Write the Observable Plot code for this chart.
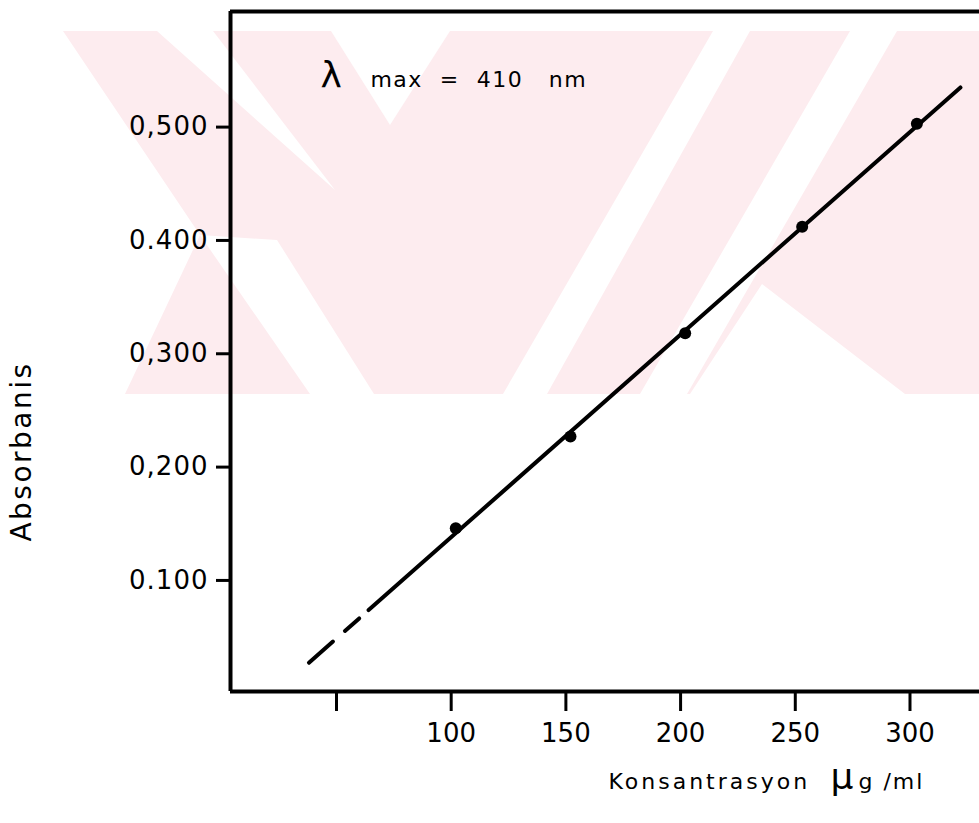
<!DOCTYPE html>
<html>
<head>
<meta charset="utf-8">
<script src="https://cdn.jsdelivr.net/npm/d3@7"></script>
<script src="https://cdn.jsdelivr.net/npm/@observablehq/plot@0.6"></script>
<style>
  body { margin: 0; background: #fff; }
  #wrap { position: relative; width: 979px; height: 823px; }
  #backdrop { position: absolute; left: 0; top: 0; }
  #chart { position: absolute; left: 0; top: 0; }
  #chart svg { display: block; }
</style>
</head>
<body>
<div id="wrap">
  <svg id="backdrop" width="979" height="823"></svg>
  <div id="chart"></div>
</div>
<script>
// Calibration standards (μg/ml) and absorbance measured at λmax = 410 nm
const concentration = [102, 152, 202, 253, 303];
const absorbance = [0.146, 0.227, 0.318, 0.412, 0.503];

const xTicks = [50, 100, 150, 200, 250, 300];
const xTickLabels = ["", "100", "150", "200", "250", "300"];
const yTicks = [0.1, 0.2, 0.3, 0.4, 0.5];
const yTickLabels = ["0.100", "0,200", "0,300", "0.400", "0,500"];

const xDomain = [3.8, 330.3];
const yDomain = [0.002, 0.602];

// Extent of the calibration line: dashed extrapolation, then solid
const fitStart = 38;
const fitSolidStart = 64;
const fitEnd = 322;

const lambdaSymbol = "λ";
const lambdaText = "max  =  410   nm";
const lambdaAt = [{x: 43, y: 0.535}];

const yLabel = "Absorbanis";
const xLabel = "Konsantrasyon";
const unitMu = "μ";
const unitRest = "g /ml";

// Pale logo printed on the page behind the figure (page pixels)
const logoBand = [[63, 31], [979, 31], [979, 394], [125, 394], [200, 235]];
const logoGaps = [
  [[157, 31], [213, 31], [335, 190]],
  [[331, 31], [450, 31], [390, 125]],
  [[713, 31], [750, 31], [547, 394], [503, 394]],
  [[850, 31], [897, 31], [687, 394], [640, 394]],
  [[762, 284], [905, 394], [690, 394]],
  [[200, 235], [277, 240], [374, 394], [310, 394]]
];

const backdrop = d3.select("#backdrop");
backdrop.append("polygon").attr("points", logoBand.join(" ")).attr("fill", "#fdecef");
backdrop.selectAll("polygon.gap").data(logoGaps).join("polygon")
  .attr("class", "gap").attr("points", d => d.join(" ")).attr("fill", "#fff");

// Least-squares calibration line through the standards
const points = concentration.map((c, i) => ({c, a: absorbance[i]}));
const mx = d3.mean(concentration);
const my = d3.mean(absorbance);
const slope = d3.sum(points, d => (d.c - mx) * (d.a - my)) / d3.sum(points, d => (d.c - mx) ** 2);
const intercept = my - slope * mx;
const fit = x => intercept + slope * x;
const dashedPart = [fitStart, fitSolidStart].map(x => ({x, y: fit(x)}));
const solidPart = [fitSolidStart, fitEnd].map(x => ({x, y: fit(x)}));

const font = "'DejaVu Sans', sans-serif";

const chart = Plot.plot({
  width: 979,
  height: 823,
  marginLeft: 230,
  marginRight: 0,
  marginTop: 11,
  marginBottom: 132,
  style: {fontFamily: font, color: "black", background: "transparent"},
  x: {domain: xDomain},
  y: {domain: yDomain},
  marks: [
    // frame: left, bottom and top edges (the right edge runs off the page)
    Plot.ruleX([xDomain[0]], {stroke: "black", strokeWidth: 4}),
    Plot.ruleY([yDomain[0], yDomain[1]], {stroke: "black", strokeWidth: 4}),
    Plot.axisX({
      ticks: xTicks,
      tickFormat: d => xTickLabels[xTicks.indexOf(d)],
      tickSize: 20,
      tickPadding: 12,
      strokeWidth: 3,
      fontSize: 26,
      label: null
    }),
    Plot.axisY({
      ticks: yTicks,
      tickFormat: d => yTickLabels[yTicks.indexOf(d)],
      tickSize: 14,
      tickPadding: 8,
      strokeWidth: 3,
      fontSize: 26,
      label: null
    }),
    Plot.line(dashedPart, {x: "x", y: "y", stroke: "black", strokeWidth: 4, strokeDasharray: "32,16,19,13"}),
    Plot.line(solidPart, {x: "x", y: "y", stroke: "black", strokeWidth: 4}),
    Plot.dot(points, {x: "c", y: "a", r: 6, fill: "black", stroke: "none"}),
    Plot.text(lambdaAt, {x: "x", y: "y", text: () => lambdaSymbol, fontSize: 36, textAnchor: "start", lineAnchor: "bottom", fill: "black"}),
    Plot.text(lambdaAt, {x: "x", y: "y", text: () => lambdaText, dx: 50, fontSize: 22, textAnchor: "start", lineAnchor: "bottom", fill: "black"}),
    Plot.text([yLabel], {text: d => d, frameAnchor: "left", dx: -208, dy: 100, rotate: -90, fontSize: 28, textAnchor: "middle", lineAnchor: "middle", fill: "black"}),
    Plot.text([xLabel], {text: d => d, frameAnchor: "bottom-left", dx: 378, dy: 97, fontSize: 22, textAnchor: "start", lineAnchor: "bottom", fill: "black"}),
    Plot.text([unitMu], {text: d => d, frameAnchor: "bottom-left", dx: 600, dy: 97, fontSize: 36, textAnchor: "start", lineAnchor: "bottom", fill: "black"}),
    Plot.text([unitRest], {text: d => d, frameAnchor: "bottom-left", dx: 628, dy: 97, fontSize: 22, textAnchor: "start", lineAnchor: "bottom", fill: "black"})
  ]
});

// spacing of the hand-lettered labels
const spacing = new Map([[lambdaText, 1.5], [yLabel, 2.5], [xLabel, 3], [unitRest, 2]]);
d3.select(chart).selectAll("text")
  .filter(function() { return spacing.has(this.textContent); })
  .style("white-space", "pre")
  .attr("letter-spacing", function() { return spacing.get(this.textContent); });
d3.select(chart).selectAll("text")
  .filter(function() { return yTickLabels.includes(this.textContent); })
  .attr("letter-spacing", 1);

document.getElementById("chart").append(chart);
</script>
</body>
</html>
